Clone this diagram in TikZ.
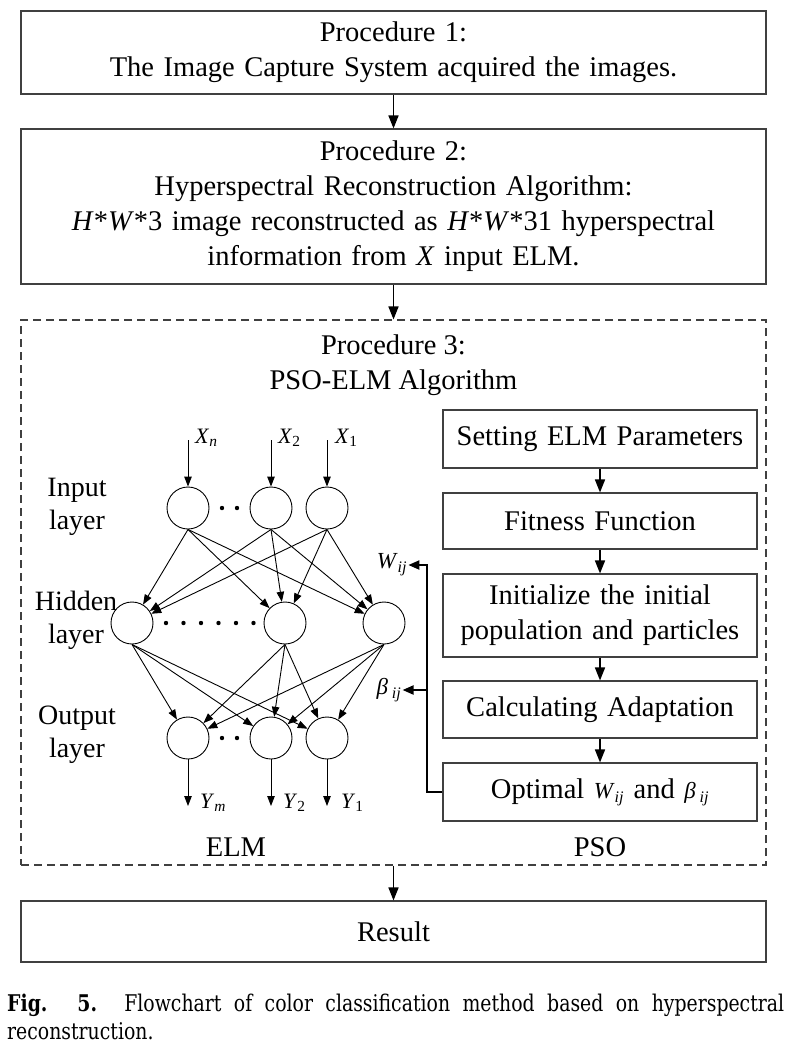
\documentclass[tikz,border=0pt]{standalone}
\usepackage{fontspec}
\setmainfont{Liberation Serif}
\newfontfamily\capfont[FakeStretch=0.82]{DejaVu Serif}
\usetikzlibrary{arrows.meta}
\tikzset{
  mainbox/.style={draw=black!75, line width=1.1pt, minimum width=745pt, inner sep=0pt,
    align=center, text width=735pt, font=\fontsize{28.5}{35}\selectfont},
  psobox/.style={draw=black!75, line width=1.1pt, minimum width=314pt, inner sep=0pt,
    align=center, text width=310pt, font=\fontsize{28.5}{35}\selectfont},
  dashbox/.style={draw=black!75, line width=1.1pt, dash pattern=on 8pt off 5pt,
    minimum width=745pt, minimum height=545pt, inner sep=0pt},
  titletext/.style={align=center, inner sep=0pt, font=\fontsize{28.5}{35}\selectfont},
  neuron/.style={circle, draw=black, line width=0.9pt, minimum size=42pt, inner sep=0pt},
  nnarrow/.style={-{Triangle[length=10pt,width=7.5pt]}, line width=0.9pt},
  flowarrow/.style={-{Triangle[length=13pt,width=10pt]}, line width=1.6pt},
  fbarrow/.style={-{Triangle[length=11pt,width=9pt]}, line width=2pt, line join=miter},
  layerlabel/.style={align=center, inner sep=0pt, font=\fontsize{28}{33}\selectfont},
  sublabel/.style={inner sep=1pt, font=\fontsize{22}{26}\selectfont},
  dotmark/.style={fill=black},
}
\newcommand{\isub}[1]{\textsubscript{\itshape #1}}
\begin{document}
\begin{tikzpicture}[x=1pt,y=-1pt]
\useasboundingbox (0,0) rectangle (786,1050);

% main flow
\node[mainbox, minimum height=83pt] (b1) at (393.5,52.5)
  {Procedure 1:\\The Image Capture System acquired the images.};
\node[mainbox, minimum height=155pt] (b2) at (393.5,206.5)
  {Procedure 2:\\Hyperspectral Reconstruction Algorithm:\\
   \textit{H}*\textit{W}*3 image reconstructed as \textit{H}*\textit{W}*31 hyperspectral\\
   information from \textit{X} input ELM.};
\node[dashbox] (p3) at (393.5,592.5) {};
\node[titletext] (p3t) at (393.5,365) {Procedure 3:\\PSO-ELM Algorithm};
\node[mainbox, minimum height=61pt] (res) at (393.5,931.5) {Result};

\draw[flowarrow] (b1.south) -- (b2.north);
\draw[flowarrow] (b2.south) -- (p3.north);
\draw[flowarrow] (p3.south) -- (res.north);

% PSO column
\node[psobox, minimum height=58pt] (s1) at (600,439) {Setting ELM Parameters};
\node[psobox, minimum height=56pt] (s2) at (600,521) {Fitness Function};
\node[psobox, minimum height=83pt] (s3) at (600,615.5) {Initialize the initial\\population and particles};
\node[psobox, minimum height=57pt] (s4) at (600,709.5) {Calculating Adaptation};
\node[psobox, minimum height=58pt] (opt) at (600,792)
  {Optimal {\fontsize{23}{28}\selectfont\textit{W}\isub{ij}} and {\fontsize{23}{28}\selectfont\textit{β}\,\isub{ij}}};
\draw[flowarrow] (s1.south) -- (s2.north);
\draw[flowarrow] (s2.south) -- (s3.north);
\draw[flowarrow] (s3.south) -- (s4.north);
\draw[flowarrow] (s4.south) -- (opt.north);

\node[titletext] (elm) at (236,847) {ELM};
\node[titletext] (pso) at (600,847) {PSO};

% neural network
\node[neuron] (I1) at (188,508) {};
\node[neuron] (I2) at (271,508) {};
\node[neuron] (I3) at (327,508) {};
\node[neuron] (H1) at (132,623) {};
\node[neuron] (H2) at (285,623) {};
\node[neuron] (H3) at (384,623) {};
\node[neuron] (O1) at (188,738) {};
\node[neuron] (O2) at (271,738) {};
\node[neuron] (O3) at (327,738) {};

\foreach \x in {222,237} {\fill[dotmark] (\x,508) circle (2.2pt);}
\foreach \x in {166,183.5,201,218.5,236,253.5} {\fill[dotmark] (\x,623) circle (2.2pt);}
\foreach \x in {222,237} {\fill[dotmark] (\x,738) circle (2.2pt);}

\node[layerlabel] (lin) at (77,507) {Input\\layer};
\node[layerlabel] (lhid) at (76,620) {Hidden\\layer};
\node[layerlabel] (lout) at (77,735) {Output\\layer};

% inputs
\coordinate (x1top) at (188,440);
\coordinate (x2top) at (271,440);
\coordinate (x3top) at (327,440);
\draw[nnarrow] (x1top) -- (I1.north);
\draw[nnarrow] (x2top) -- (I2.north);
\draw[nnarrow] (x3top) -- (I3.north);
\node[sublabel, anchor=west] (xn) at (194,438) {\textit{X}\isub{n}};
\node[sublabel, anchor=west] (xb) at (277,438) {\textit{X}\textsubscript{2}};
\node[sublabel, anchor=west] (xa) at (334,438) {\textit{X}\textsubscript{1}};

% connections
\foreach \i in {1,2,3} {
  \foreach \h in {1,2,3} {
    \draw[nnarrow] (I\i.south) -- (H\h);
    \draw[nnarrow] (H\i.south) -- (O\h);
  }
}

% outputs
\coordinate (y1bot) at (188,806);
\coordinate (y2bot) at (271,806);
\coordinate (y3bot) at (327,806);
\draw[nnarrow] (O1.south) -- (y1bot);
\draw[nnarrow] (O2.south) -- (y2bot);
\draw[nnarrow] (O3.south) -- (y3bot);
\node[sublabel, anchor=west] (ym) at (199,803) {\textit{Y}\isub{m}};
\node[sublabel, anchor=west] (yb) at (282,803) {\textit{Y}\textsubscript{2}};
\node[sublabel, anchor=west] (ya) at (340,803) {\textit{Y}\textsubscript{1}};

% feedback
\node[sublabel, font=\fontsize{23}{26}\selectfont] (wlab) at (392,565) {\textit{W}\isub{ij}};
\node[sublabel, font=\fontsize{23}{26}\selectfont] (blab) at (389,690) {\textit{β}\,\isub{ij}};
\coordinate (fbc) at (427,792);
\coordinate (fbb) at (427,690);
\draw[fbarrow] (opt.west) -- (fbc) |- (wlab.east);
\draw[fbarrow] (fbb) -- (blab.east);

% caption
\node[anchor=north west, inner sep=0pt, align=left,
      font=\capfont\fontsize{23}{28}\selectfont] (cap) at (7,993.5)
  {\makebox[777pt][s]{\textbf{Fig. 5.} Flowchart of color classification method based on hyperspectral}\\
   reconstruction.};
\end{tikzpicture}
\end{document}
